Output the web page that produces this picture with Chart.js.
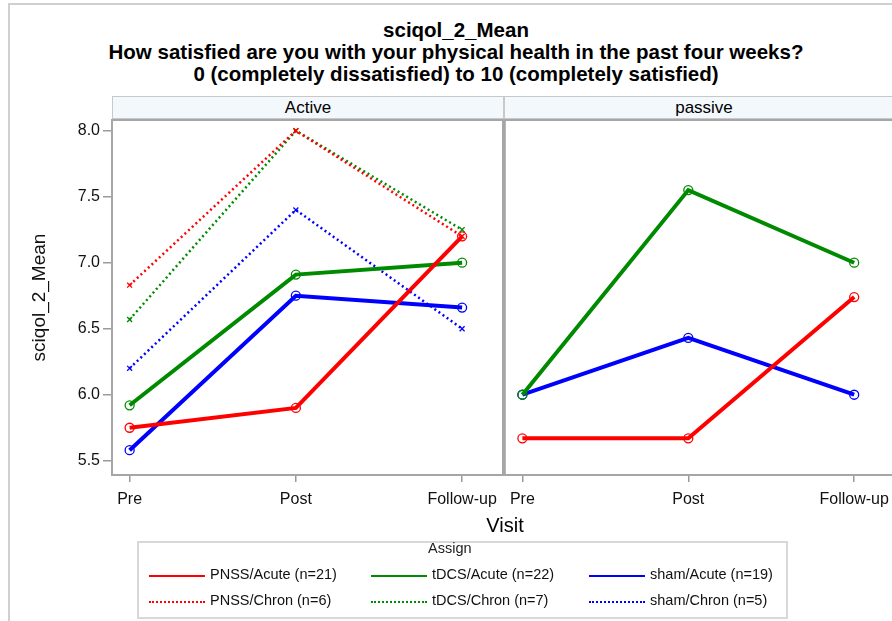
<!DOCTYPE html>
<html>
<head>
<meta charset="utf-8">
<script src="https://cdn.jsdelivr.net/npm/chart.js@4"></script>
<style>
  html, body { margin: 0; padding: 0; background: #fff; }
  body { width: 892px; height: 621px; overflow: hidden; position: relative; font-family: "Liberation Sans", Arial, sans-serif; }
  .abs { position: absolute; }
  .edge { left: 8px; top: 3px; width: 900px; height: 700px; border-left: 2px solid #d0d0d0; border-top: 2px solid #d0d0d0; }
  .title { left: 10px; top: 19px; width: 892px; text-align: center; font-weight: bold; font-size: 20.5px; line-height: 22px; color: #000; }
  .strip { top: 96px; height: 23px; box-sizing: border-box; border: 1px solid #c8c8c8; background: #f3f8fd; text-align: center; font-size: 17px; line-height: 21px; color: #000; }
  .visit { left: 455px; width: 100px; top: 514px; text-align: center; font-size: 20px; color: #000; }
  .legend { left: 137px; top: 541px; width: 651px; height: 78px; box-sizing: border-box; border: 2px solid #d8d8d8; }
  .lg-title { left: 428px; top: 540px; font-size: 14.5px; color: #222; }
  .lg-line { width: 56px; height: 0; }
  .lg-text { font-size: 14.5px; color: #111; white-space: nowrap; }
</style>
</head>
<body>
<div class="abs edge"></div>
<div class="abs title">sciqol_2_Mean<br>How satisfied are you with your physical health in the past four weeks?<br>0 (completely dissatisfied) to 10 (completely satisfied)</div>
<div class="abs strip" style="left:112px;width:392px;">Active</div>
<div class="abs strip" style="left:504px;width:400px;">passive</div>

<div class="abs" style="left:0;top:0;"><canvas id="active" width="560" height="621"></canvas></div>
<div class="abs" style="left:500px;top:0;"><canvas id="passive" width="440" height="621"></canvas></div>

<div class="abs visit">Visit</div>
<div class="abs legend"></div>
<div class="abs lg-title">Assign</div>
<div id="legend"></div>

<script>
const visits = ['Pre', 'Post', 'Follow-up'];
const yTicks = [5.5, 6.0, 6.5, 7.0, 7.5, 8.0];

// Active panel
const activePnssAcute = [5.75, 5.90, 7.20];
const activeTdcsAcute = [5.92, 6.91, 7.00];
const activeShamAcute = [5.58, 6.75, 6.66];
const activePnssChron = [6.83, 8.00, 7.20];
const activeTdcsChron = [6.57, 8.00, 7.25];
const activeShamChron = [6.20, 7.40, 6.50];

// passive panel
const passivePnssAcute = [5.67, 5.67, 6.74];
const passiveTdcsAcute = [6.00, 7.55, 7.00];
const passiveShamAcute = [6.00, 6.43, 6.00];

const groups = ['PNSS/Acute (n=21)', 'tDCS/Acute (n=22)', 'sham/Acute (n=19)',
                'PNSS/Chron (n=6)', 'tDCS/Chron (n=7)', 'sham/Chron (n=5)'];

const RED = '#ff0000', GREEN = '#008a00', BLUE = '#0000ff';

Chart.defaults.font.family = '"Liberation Sans", Arial, sans-serif';
Chart.defaults.color = '#111';

function pts(vals) {
    return vals.map((v, i) => ({x: i, y: v}));
}

function solid(label, vals, color) {
    return {
        label: label, data: pts(vals), borderColor: color, borderWidth: 4,
        pointStyle: 'circle', pointRadius: 4.5, pointBorderWidth: 1.3,
        pointBackgroundColor: 'rgba(0,0,0,0)', pointBorderColor: color
    };
}

function dotted(label, vals, color) {
    return {
        label: label, data: pts(vals), borderColor: color, borderWidth: 2.5,
        borderDash: [2, 3], borderCapStyle: 'butt',
        pointStyle: 'crossRot', pointRadius: 3.5, pointBorderWidth: 1.3,
        pointBorderColor: color
    };
}

const framePlugin = {
    id: 'frame',
    afterDatasetsDraw(chart) {
        const a = chart.chartArea, c = chart.ctx;
        c.save();
        c.strokeStyle = '#a6a6a6';
        c.lineWidth = 2;
        c.strokeRect(a.left - 1, a.top, a.right - a.left + 1, a.bottom - a.top);
        c.restore();
    }
};

function makeChart(id, datasets, showY, pad) {
    return new Chart(document.getElementById(id), {
        type: 'line',
        data: {datasets: datasets},
        plugins: [framePlugin],
        options: {
            responsive: false,
            animation: false,
            layout: {padding: pad},
            plugins: {legend: {display: false}, tooltip: {enabled: false}},
            scales: {
                x: {
                    type: 'linear', min: -0.1, max: 2.246,
                    afterBuildTicks: s => { s.ticks = visits.map((v, i) => ({value: i})); },
                    afterFit: s => { s.height = 40; },
                    ticks: {callback: v => visits[v], font: {size: 16}, color: '#111', padding: 8, maxRotation: 0},
                    grid: {drawOnChartArea: false, tickLength: 7, color: '#9a9a9a', lineWidth: 1.5},
                    border: {display: false}
                },
                y: {
                    display: showY, min: 5.392, max: 8.081,
                    afterBuildTicks: s => { s.ticks = yTicks.map(v => ({value: v})); },
                    afterFit: s => { if (showY) s.width = 113; },
                    ticks: {callback: v => v.toFixed(1), font: {size: 16}, color: '#111', padding: 3},
                    grid: {drawOnChartArea: false, tickLength: 10, color: '#9a9a9a', lineWidth: 1.5},
                    border: {display: false},
                    title: {display: true, text: 'sciqol_2_Mean', font: {size: 19}, color: '#111', padding: {top: 28, bottom: 0}}
                }
            }
        }
    });
}

makeChart('active', [
    solid(groups[0], activePnssAcute, RED),
    solid(groups[1], activeTdcsAcute, GREEN),
    solid(groups[2], activeShamAcute, BLUE),
    dotted(groups[3], activePnssChron, RED),
    dotted(groups[4], activeTdcsChron, GREEN),
    dotted(groups[5], activeShamChron, BLUE)
], true, {left: 0, right: 57, top: 120, bottom: 106});

makeChart('passive', [
    solid(groups[0], passivePnssAcute, RED),
    solid(groups[1], passiveTdcsAcute, GREEN),
    solid(groups[2], passiveShamAcute, BLUE)
], false, {left: 5, right: 45, top: 120, bottom: 106});

// legend built from the group names
const colors = [RED, GREEN, BLUE, RED, GREEN, BLUE];
const colX = [149, 371, 589];
const rowY = [576, 602];
const lg = document.getElementById('legend');
groups.forEach((g, i) => {
    const col = i % 3, row = Math.floor(i / 3);
    const line = document.createElement('div');
    line.className = 'abs lg-line';
    line.style.left = colX[col] + 'px';
    line.style.top = (rowY[row] - 1) + 'px';
    line.style.borderTop = row === 0 ? `2.5px solid ${colors[i]}` : `2px dotted ${colors[i]}`;
    lg.appendChild(line);
    const t = document.createElement('div');
    t.className = 'abs lg-text';
    t.style.left = (colX[col] + 61) + 'px';
    t.style.top = (rowY[row] - 10) + 'px';
    t.textContent = g;
    lg.appendChild(t);
});
</script>
</body>
</html>
